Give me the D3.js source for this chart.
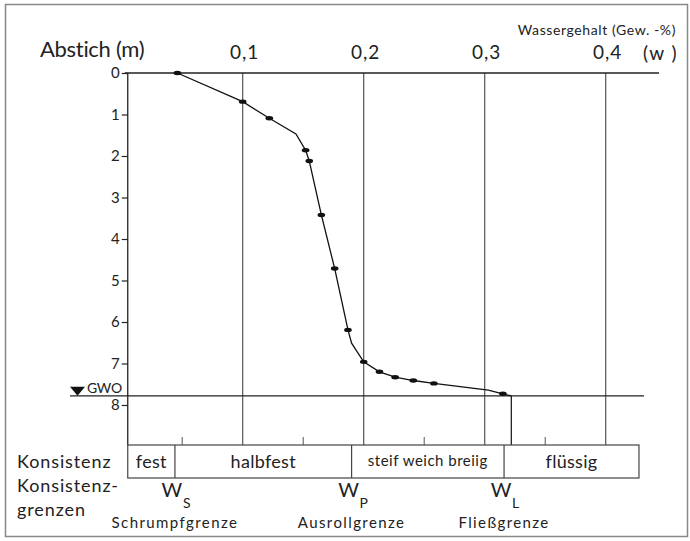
<!DOCTYPE html>
<html>
<head>
<meta charset="utf-8">
<script src="https://cdn.jsdelivr.net/npm/d3@7"></script>
<style>
  body { margin: 0; background: #fff; }
  svg { display: block; font-family: Lato, "Open Sans", sans-serif; }
  .grid { stroke: #555; stroke-width: 1.2; }
  .axisline { stroke: #222; stroke-width: 1.3; }
</style>
</head>
<body>
<svg id="chart" width="690" height="541"></svg>
<script>
// measured points: water content (w) and depth (m)
const sampleW = [0.046, 0.100, 0.122, 0.152, 0.155, 0.165, 0.176, 0.187, 0.200, 0.213, 0.226, 0.241, 0.258, 0.315];
const sampleDepth = [0.0, 0.69, 1.09, 1.86, 2.12, 3.42, 4.71, 6.19, 6.96, 7.20, 7.33, 7.41, 7.48, 7.73];

// the drawn curve (markers plus kinks of the line)
const curveW = [0.046, 0.100, 0.122, 0.144, 0.152, 0.155, 0.165, 0.176, 0.187, 0.190, 0.200, 0.213, 0.226, 0.241, 0.258, 0.303, 0.315, 0.322];
const curveDepth = [0.0, 0.69, 1.09, 1.47, 1.86, 2.12, 3.42, 4.71, 6.19, 6.51, 6.96, 7.20, 7.33, 7.41, 7.48, 7.64, 7.73, 7.78];

const xTicks = [0.1, 0.2, 0.3, 0.4];
const xTickLabels = ["0,1", "0,2", "0,3", "0,4"];
const xMinorTicks = [0.05, 0.15, 0.25, 0.35];
const depthTicks = [0, 1, 2, 3, 4, 5, 6, 7, 8];
const gwoDepth = 7.78;

// consistency classes and limits
const limitNames = ["W", "W", "W"];
const limitSubs = ["S", "P", "L"];
const limitTexts = ["Schrumpfgrenze", "Ausrollgrenze", "Fließgrenze"];
const limitW = [0.044, 0.190, 0.316];
const classNames = ["fest", "halbfest", "steif weich breiig", "flüssig"];
const boxStartW = 0.005;
const boxEndW = 0.4275;

const svg = d3.select("#chart");

// outer frame
svg.append("rect")
  .attr("x", 5.5).attr("y", 4.5)
  .attr("width", 682).attr("height", 532)
  .attr("fill", "none").attr("stroke", "#888").attr("stroke-width", 1.5);

const x = d3.scaleLinear().domain([0, 0.4]).range([121.7, 605.7]);
const y = d3.scaleLinear().domain([0, 8]).range([73, 405]);

const axisX = x(boxStartW);
const boxTop = 445, boxBottom = 478;

// vertical grid lines
svg.selectAll(".grid")
  .data(xTicks)
  .enter().append("line")
  .attr("class", "grid")
  .attr("x1", d => x(d)).attr("x2", d => x(d))
  .attr("y1", y(0)).attr("y2", boxTop);

// minor ticks above the box
svg.selectAll(".minor")
  .data(xMinorTicks)
  .enter().append("line")
  .attr("class", "minor")
  .attr("stroke", "#555").attr("stroke-width", 1)
  .attr("x1", d => x(d)).attr("x2", d => x(d))
  .attr("y1", boxTop - 8).attr("y2", boxTop);

// top axis line
svg.append("line").attr("class", "axisline")
  .attr("x1", axisX - 3).attr("x2", 659)
  .attr("y1", y(0)).attr("y2", y(0));

// depth axis
const yAxis = d3.axisLeft(y).tickValues(depthTicks).tickSize(6).tickPadding(2).tickFormat(d => d);
const yAxisGroup = svg.append("g")
  .attr("transform", "translate(" + axisX + ",0)")
  .call(yAxis);
yAxisGroup.select(".domain").remove();
yAxisGroup.selectAll("line").attr("stroke", "#222").attr("stroke-width", 1.2);
yAxisGroup.selectAll("text")
  .attr("font-family", "Lato, sans-serif")
  .attr("font-size", 15).attr("fill", "#222");

svg.append("line").attr("class", "axisline")
  .attr("x1", axisX).attr("x2", axisX)
  .attr("y1", y(0)).attr("y2", boxTop);

// top labels
svg.selectAll(".xlab")
  .data(xTicks)
  .enter().append("text")
  .attr("class", "xlab")
  .attr("x", d => x(d) + 2)
  .attr("y", 59)
  .attr("text-anchor", "middle")
  .attr("font-size", 19).attr("fill", "#222")
  .attr("letter-spacing", 1)
  .text((d, i) => xTickLabels[i]);

svg.append("text").attr("x", 40).attr("y", 57)
  .attr("font-size", 22).attr("fill", "#222").attr("letter-spacing", -0.3)
  .text("Abstich (m)");
svg.append("text").attr("x", 643).attr("y", 60)
  .attr("font-size", 19).attr("fill", "#222").attr("letter-spacing", 1.5)
  .text("(w )");
svg.append("text").attr("x", 676).attr("y", 35)
  .attr("text-anchor", "end")
  .attr("font-size", 14).attr("fill", "#222").attr("letter-spacing", 0.6)
  .text("Wassergehalt (Gew. -%)");

// groundwater line
svg.append("line").attr("class", "axisline")
  .attr("x1", 70).attr("x2", 644)
  .attr("y1", y(gwoDepth)).attr("y2", y(gwoDepth));
svg.append("path")
  .attr("d", "M70," + (y(gwoDepth) - 9) + "L85," + (y(gwoDepth) - 9) + "L77.5," + y(gwoDepth) + "Z")
  .attr("fill", "#111");
svg.append("text").attr("x", 87).attr("y", y(gwoDepth) - 3)
  .attr("font-size", 14).attr("fill", "#222").attr("letter-spacing", -0.3)
  .text("GWO");

// drop line from last point to the box
svg.append("line").attr("class", "axisline")
  .attr("x1", x(curveW[curveW.length - 1])).attr("x2", x(curveW[curveW.length - 1]))
  .attr("y1", y(curveDepth[curveDepth.length - 1])).attr("y2", boxTop);

// curve
const line = d3.line()
  .x((d, i) => x(curveW[i]))
  .y((d, i) => y(curveDepth[i]));
svg.append("path")
  .datum(curveW)
  .attr("d", line)
  .attr("fill", "none").attr("stroke", "#111").attr("stroke-width", 1.3);

svg.selectAll(".pt")
  .data(sampleW)
  .enter().append("ellipse")
  .attr("class", "pt")
  .attr("cx", d => x(d))
  .attr("cy", (d, i) => y(sampleDepth[i]))
  .attr("rx", 3.8).attr("ry", 2.2)
  .attr("fill", "#111");

// consistency box
const bounds = [boxStartW].concat(limitW).concat([boxEndW]);
svg.append("rect")
  .attr("x", x(boxStartW)).attr("y", boxTop)
  .attr("width", x(boxEndW) - x(boxStartW)).attr("height", boxBottom - boxTop)
  .attr("fill", "none").attr("stroke", "#444").attr("stroke-width", 1.2);
svg.selectAll(".div")
  .data(limitW)
  .enter().append("line")
  .attr("class", "div")
  .attr("stroke", "#444").attr("stroke-width", 1.2)
  .attr("x1", d => x(d)).attr("x2", d => x(d))
  .attr("y1", boxTop).attr("y2", boxBottom);
svg.selectAll(".cls")
  .data(classNames)
  .enter().append("text")
  .attr("class", "cls")
  .attr("x", (d, i) => (x(bounds[i]) + x(bounds[i + 1])) / 2)
  .attr("y", (d, i) => i === 2 ? 466 : 468)
  .attr("text-anchor", "middle")
  .attr("font-size", (d, i) => i === 2 ? 15 : 18)
  .attr("letter-spacing", (d, i) => i === 2 ? 0.5 : 0.3)
  .attr("fill", "#222")
  .text(d => d);

// left labels
svg.append("text").attr("x", 17).attr("y", 468)
  .attr("font-size", 18).attr("letter-spacing", 0.9).attr("fill", "#222").text("Konsistenz");
svg.append("text").attr("x", 17).attr("y", 492)
  .attr("font-size", 18).attr("letter-spacing", 0.9).attr("fill", "#222").text("Konsistenz-");
svg.append("text").attr("x", 17).attr("y", 516)
  .attr("font-size", 18).attr("letter-spacing", 0.9).attr("fill", "#222").text("grenzen");

// limit labels
const limits = svg.selectAll(".lim")
  .data(limitW)
  .enter().append("g")
  .attr("class", "lim");
limits.append("text")
  .attr("x", d => x(d) - 3)
  .attr("y", 497)
  .attr("text-anchor", "middle")
  .attr("font-size", 20).attr("fill", "#222")
  .text((d, i) => limitNames[i]);
limits.append("text")
  .attr("x", d => x(d) + 8)
  .attr("y", 508)
  .attr("font-size", 14).attr("fill", "#222")
  .text((d, i) => limitSubs[i]);
limits.append("text")
  .attr("x", d => x(d))
  .attr("y", 528)
  .attr("text-anchor", "middle")
  .attr("font-size", 15).attr("letter-spacing", 1.4).attr("fill", "#222")
  .text((d, i) => limitTexts[i]);
</script>
</body>
</html>
